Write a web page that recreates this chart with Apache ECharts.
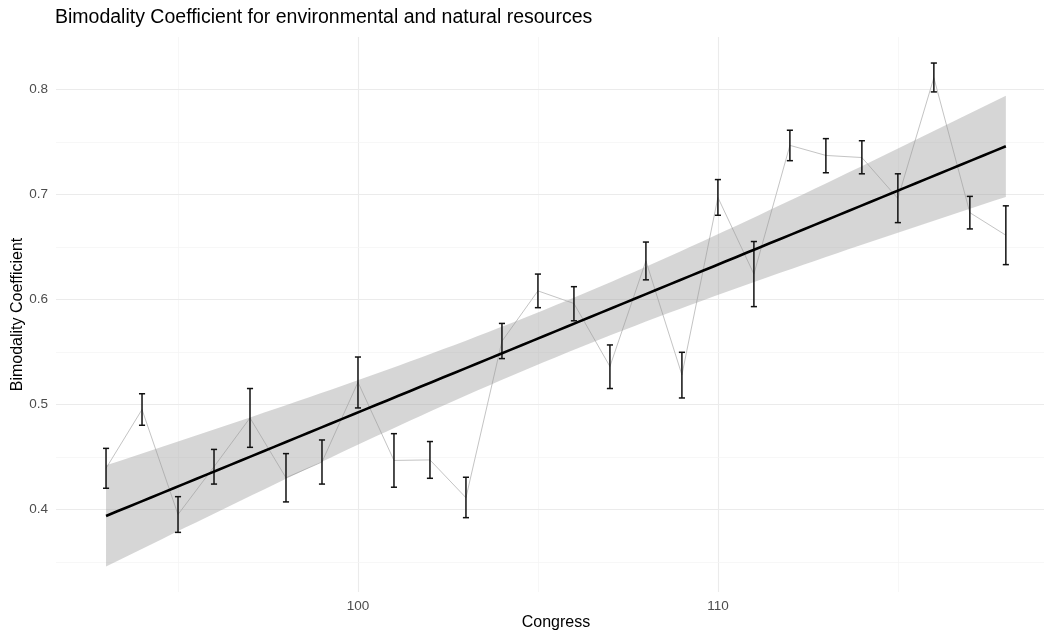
<!DOCTYPE html>
<html>
<head>
<meta charset="utf-8">
<title>Bimodality Coefficient</title>
<script src="https://cdn.jsdelivr.net/npm/echarts@6/dist/echarts.min.js"></script>
<style>
  html, body { margin: 0; padding: 0; background: #ffffff; }
  #chart { width: 1044px; height: 635px; }
</style>
</head>
<body>
<div id="chart"></div>
<script>
// Congress sessions on the x axis
const congress = [93, 94, 95, 96, 97, 98, 99, 100, 101, 102, 103, 104, 105,
                  106, 107, 108, 109, 110, 111, 112, 113, 114, 115, 116, 117, 118];
// Bimodality coefficient per congress
const bcMean = [0.439, 0.495, 0.395, 0.4405, 0.487, 0.430, 0.445, 0.521, 0.4465, 0.447,
                0.411, 0.560, 0.608, 0.596, 0.536, 0.6365, 0.528, 0.697, 0.624, 0.7466,
                0.737, 0.735, 0.696, 0.811, 0.6825, 0.661];
// Interval bounds drawn as error bars
const bcLow  = [0.420, 0.480, 0.378, 0.424, 0.459, 0.407, 0.424, 0.4965, 0.421, 0.4295,
                0.392, 0.5435, 0.592, 0.5795, 0.515, 0.6185, 0.506, 0.680, 0.593, 0.732,
                0.7205, 0.7195, 0.673, 0.7975, 0.667, 0.633];
const bcHigh = [0.458, 0.510, 0.412, 0.457, 0.515, 0.453, 0.466, 0.545, 0.472, 0.4645,
                0.4305, 0.577, 0.624, 0.612, 0.5565, 0.6545, 0.5495, 0.714, 0.655, 0.761,
                0.753, 0.751, 0.7195, 0.825, 0.698, 0.689];
// Tick labels
const xTicks = [100, 110];
const yTicks = [0.4, 0.5, 0.6, 0.7, 0.8];
const xMinorGrid = [95, 105, 115];
const yMinorGrid = [0.35, 0.45, 0.55, 0.65, 0.75, 0.85];

// Ordinary least squares fit with a 95% confidence band
const n = congress.length;
const xBar = congress.reduce((a, b) => a + b, 0) / n;
const yBar = bcMean.reduce((a, b) => a + b, 0) / n;
let sxx = 0, sxy = 0;
for (let i = 0; i < n; i++) {
  sxx += (congress[i] - xBar) ** 2;
  sxy += (congress[i] - xBar) * (bcMean[i] - yBar);
}
const slope = sxy / sxx;
const intercept = yBar - slope * xBar;
let sse = 0;
for (let i = 0; i < n; i++) {
  const r = bcMean[i] - (intercept + slope * congress[i]);
  sse += r * r;
}
const sigma = Math.sqrt(sse / (n - 2));
const tCrit = 2.0639; // t quantile 0.975, 24 df

const fitLine = [], bandData = [];
const xStart = congress[0], xEnd = congress[n - 1], steps = 80;
for (let k = 0; k <= steps; k++) {
  const x = xStart + (xEnd - xStart) * k / steps;
  const yHat = intercept + slope * x;
  const se = sigma * Math.sqrt(1 / n + (x - xBar) ** 2 / sxx);
  fitLine.push([x, yHat]);
  bandData.push([x, yHat - tCrit * se, yHat + tCrit * se]);
}

const meanPoints = congress.map((c, i) => [c, bcMean[i]]);
const barData = congress.map((c, i) => [c, bcLow[i], bcHigh[i]]);

const majorGrid = { color: '#ebebeb', width: 1.1, type: 'solid' };
const minorGrid = { color: '#f4f4f4', width: 0.7, type: 'solid' };
const gridLines = [];
xTicks.forEach(v => gridLines.push({ xAxis: v, lineStyle: majorGrid }));
xMinorGrid.forEach(v => gridLines.push({ xAxis: v, lineStyle: minorGrid }));
yTicks.forEach(v => gridLines.push({ yAxis: v, lineStyle: majorGrid }));
yMinorGrid.forEach(v => gridLines.push({ yAxis: v, lineStyle: minorGrid }));

const font = '"Liberation Sans", Arial, sans-serif';
const chart = echarts.init(document.getElementById('chart'), null, { renderer: 'canvas' });

chart.setOption({
  animation: false,
  backgroundColor: '#ffffff',
  title: [
    {
      text: 'Bimodality Coefficient for environmental and natural resources',
      left: 55, top: 8, padding: 0,
      textStyle: { fontFamily: font, fontSize: 19.5, fontWeight: 'normal', color: '#000000' }
    },
    {
      text: 'Congress',
      left: 556, top: 615, textAlign: 'center', padding: 0,
      textStyle: { fontFamily: font, fontSize: 16, fontWeight: 'normal', color: '#000000' }
    }
  ],
  grid: {
    left: 56, right: 0, top: 37, bottom: 43,
    containLabel: false,
    outerBoundsMode: 'none'
  },
  xAxis: {
    type: 'value',
    min: 91.61, max: 119.06,
    axisLine: { show: false },
    axisTick: { show: false, customValues: xTicks },
    splitLine: { show: false },
    axisLabel: {
      customValues: xTicks,
      color: '#4d4d4d', fontFamily: font, fontSize: 13.5, margin: 7,
      formatter: v => String(Math.round(v))
    }
  },
  yAxis: {
    type: 'value',
    min: 0.3212, max: 0.8498,
    name: 'Bimodality Coefficient',
    nameLocation: 'middle',
    nameRotate: 90,
    nameGap: 30,
    nameMoveOverlap: false,
    nameTextStyle: { fontFamily: font, fontSize: 16, color: '#000000' },
    axisLine: { show: false },
    axisTick: { show: false, customValues: yTicks },
    splitLine: { show: false },
    axisLabel: {
      customValues: yTicks,
      color: '#4d4d4d', fontFamily: font, fontSize: 13.5, margin: 8,
      formatter: v => v.toFixed(1)
    }
  },
  series: [
    {
      name: 'grid',
      type: 'line',
      data: [],
      silent: true,
      z: 0,
      markLine: {
        z: 0,
        silent: true,
        symbol: 'none',
        label: { show: false },
        animation: false,
        data: gridLines
      }
    },
    {
      name: 'trace',
      type: 'line',
      data: meanPoints,
      showSymbol: false,
      symbol: 'none',
      lineStyle: { color: '#c4c4c4', width: 1 },
      silent: true,
      z: 1
    },
    {
      // confidence band as one polygon: upper edge left to right, lower edge back
      name: 'band',
      type: 'custom',
      data: bandData,
      encode: { x: 0, y: [1, 2] },
      silent: true,
      z: 2,
      renderItem: function (params, api) {
        if (params.dataIndex !== 0) return null;
        const pts = [];
        bandData.forEach(d => pts.push(api.coord([d[0], d[2]])));
        for (let i = bandData.length - 1; i >= 0; i--) {
          pts.push(api.coord([bandData[i][0], bandData[i][1]]));
        }
        return {
          type: 'polygon',
          shape: { points: pts },
          style: { fill: 'rgba(153,153,153,0.4)', stroke: 'none' }
        };
      }
    },
    {
      name: 'interval',
      type: 'custom',
      data: barData,
      encode: { x: 0, y: [1, 2] },
      silent: true,
      z: 3,
      renderItem: function (params, api) {
        const x = api.value(0);
        const top = api.coord([x, api.value(2)]);
        const bot = api.coord([x, api.value(1)]);
        const hw = api.size([0.17, 0])[0] / 2;
        const style = { stroke: '#111111', lineWidth: 1.5 };
        return {
          type: 'group',
          children: [
            { type: 'line', shape: { x1: top[0], y1: top[1], x2: bot[0], y2: bot[1] }, style: style },
            { type: 'line', shape: { x1: top[0] - hw, y1: top[1], x2: top[0] + hw, y2: top[1] }, style: style },
            { type: 'line', shape: { x1: bot[0] - hw, y1: bot[1], x2: bot[0] + hw, y2: bot[1] }, style: style }
          ]
        };
      }
    },
    {
      name: 'fit',
      type: 'line',
      data: fitLine,
      symbol: 'none',
      showSymbol: false,
      lineStyle: { color: '#000000', width: 2.6 },
      silent: true,
      z: 4
    }
  ]
});
</script>
</body>
</html>
